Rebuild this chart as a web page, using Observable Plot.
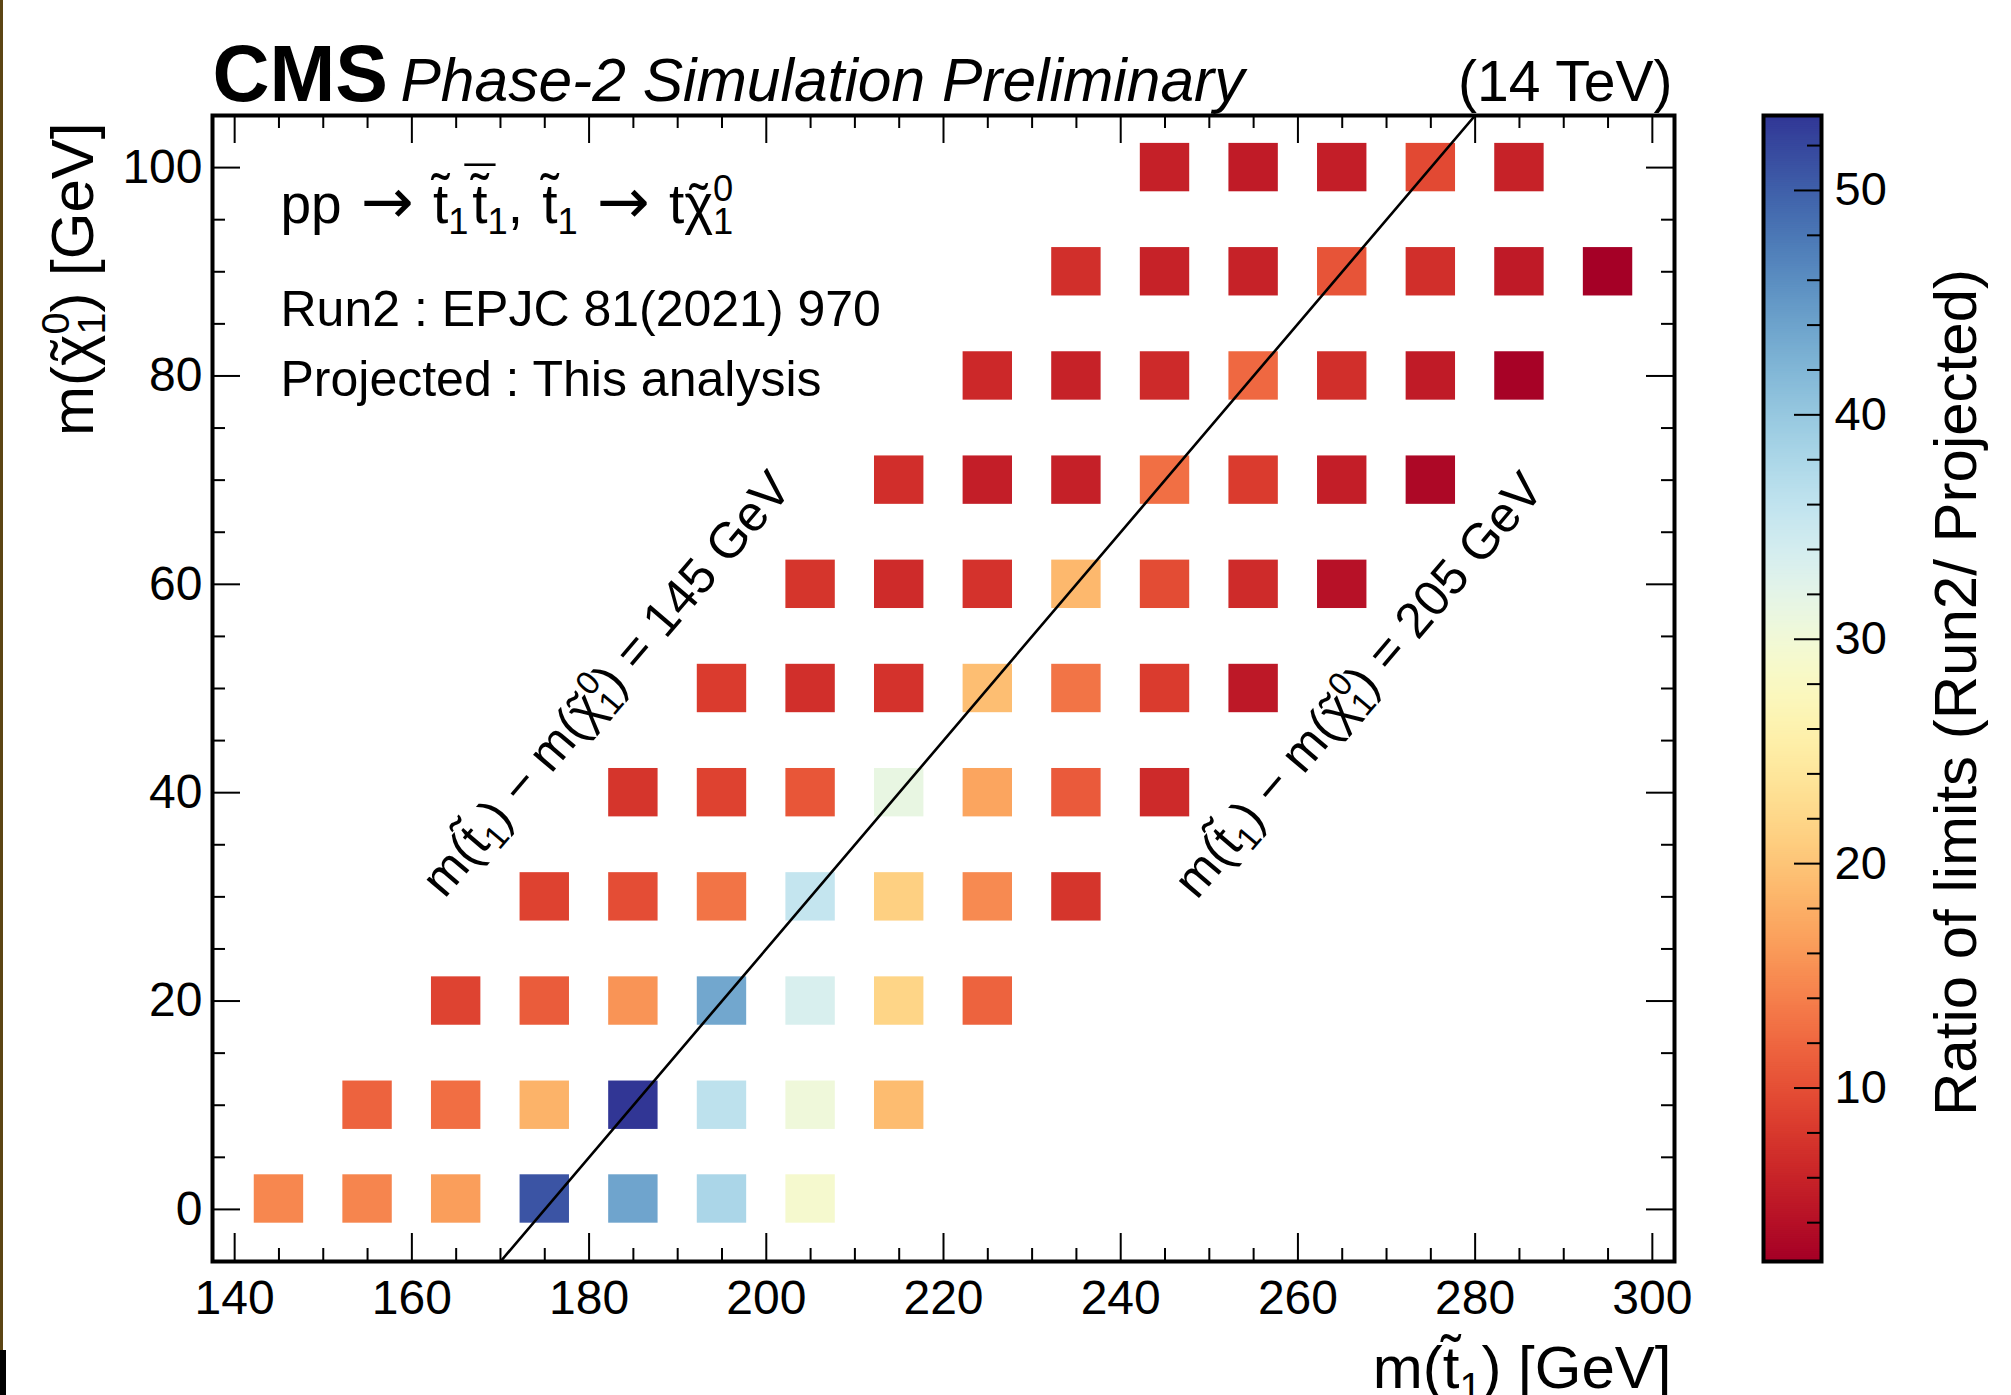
<!DOCTYPE html>
<html>
<head>
<meta charset="utf-8">
<script src="https://cdn.jsdelivr.net/npm/d3@7"></script>
<script src="https://cdn.jsdelivr.net/npm/@observablehq/plot@0.6"></script>
<style>
  html, body { margin: 0; padding: 0; background: #fff; }
  #page { position: relative; width: 2011px; height: 1395px; overflow: hidden; background: #fff;
          font-family: "Liberation Sans", Arial, Helvetica, sans-serif; }
  #main { position: absolute; left: 0; top: 0; }
  #cbar { position: absolute; left: 1720px; top: 0; }
  #edge { position: absolute; left: 0; top: 0; width: 3px; height: 1350px; background: #5c4514; }
  #edge2 { position: absolute; left: 0; top: 1350px; width: 6px; height: 45px; background: #000; }
</style>
</head>
<body>
<div id="page"><div id="main"></div><div id="cbar"></div><div id="edge"></div><div id="edge2"></div></div>
<script>
// ---------------- DATA ----------------
const _ = null;
// stop mass grid [GeV]
const mStop = [145, 155, 165, 175, 185, 195, 205, 215, 225, 235, 245, 255, 265, 275, 285, 295];
// neutralino mass of each row [GeV]
const mLSP = [1, 10, 20, 30, 40, 50, 60, 70, 80, 90, 100];
// ratio of limits (Run2 / Projected), one array per neutralino mass row, aligned to mStop
const ratio_m1   = [14.5, 14.4, 16.4, 50.9, 43.8, 38.0, 29.1, _, _, _, _, _, _, _, _, _];
const ratio_m10  = [_, 11.6, 12.5, 18.3, 53.3, 36.3, 30.3, 19.1, _, _, _, _, _, _, _, _];
const ratio_m20  = [_, _, 8.9, 11.0, 15.6, 43.5, 33.4, 21.7, 11.6, _, _, _, _, _, _, _];
const ratio_m30  = [_, _, _, 8.8, 9.8, 13.0, 35.6, 21.2, 14.8, 7.6, _, _, _, _, _, _];
const ratio_m40  = [_, _, _, _, 7.6, 8.8, 10.5, 31.3, 17.0, 10.9, 6.6, _, _, _, _, _];
const ratio_m50  = [_, _, _, _, _, 8.2, 7.1, 7.4, 19.3, 13.0, 8.2, 4.8, _, _, _, _];
const ratio_m60  = [_, _, _, _, _, _, 7.6, 6.7, 7.4, 18.7, 9.7, 6.7, 4.1, _, _, _];
const ratio_m70  = [_, _, _, _, _, _, _, 7.0, 5.4, 5.6, 12.6, 8.2, 5.4, 3.1, _, _];
const ratio_m80  = [_, _, _, _, _, _, _, _, 6.4, 5.8, 6.6, 12.0, 7.1, 5.1, 2.5, _];
const ratio_m90  = [_, _, _, _, _, _, _, _, _, 7.1, 5.8, 5.8, 10.4, 7.1, 5.0, 2.3];
const ratio_m100 = [_, _, _, _, _, _, _, _, _, _, 5.6, 5.1, 5.4, 9.4, 5.8, _];
const ratioRows = [ratio_m1, ratio_m10, ratio_m20, ratio_m30, ratio_m40, ratio_m50,
                   ratio_m60, ratio_m70, ratio_m80, ratio_m90, ratio_m100];

// axis ticks
const xMajor = [140, 160, 180, 200, 220, 240, 260, 280, 300];
const xMinor = [145, 150, 155, 165, 170, 175, 185, 190, 195, 205, 210, 215, 225, 230, 235,
                245, 250, 255, 265, 270, 275, 285, 290, 295];
const yMajor = [0, 20, 40, 60, 80, 100];
const yMinor = [5, 10, 15, 25, 30, 35, 45, 50, 55, 65, 70, 75, 85, 90, 95];
const cbMajor = [10, 20, 30, 40, 50];
const cbMinor = [4, 6, 8, 12, 14, 16, 18, 22, 24, 26, 28, 32, 34, 36, 38, 42, 44, 46, 48, 52];

// scale ranges
const xDom = [137.5, 302.5];
const yDom = [-5, 105];
const cDom = [2.27, 53.34];

// m(stop) - m(LSP) = m(top) diagonal
const deltaTop = 175;
const diagY = [-5, 105];

// texts
const xTitle = "m(t\u0303\u2081) [GeV]";
const yTitle = "m(\u03C7\u0303\u2070\u2081) [GeV]";
const cbTitle = "Ratio of limits (Run2/ Projected)";
const ppLabel = "pp \u2192 t\u0303\u2081t\u0303\u0304\u2081, t\u0303\u2081 \u2192 t\u03C7\u0303\u2070\u2081";
const diagLabels = [
  {x: 182.0, y: 50.4, label: "m(t\u0303\u2081) \u2212 m(\u03C7\u0303\u2070\u2081) = 145 GeV"},
  {x: 266.9, y: 50.3, label: "m(t\u0303\u2081) \u2212 m(\u03C7\u0303\u2070\u2081) = 205 GeV"}
];

// rich-text markup for the labels with accents and sub/superscripts
const ARROW = {t: "\u2192", font: '"DejaVu Sans", sans-serif', scale: 1.15};
const GAP = {gap: 0.07};
const tTilde = {acc: "t", tilde: 0.17};
const tTildeBar = {acc: "t", tilde: 0.17, bar: 0.13};
const chiTilde = {acc: "\u03C7", tilde: 0.0};
const rich = new Map([
  [xTitle, ["m(", tTilde, {sub: "1"}, ") [GeV]"]],
  [yTitle, ["m(", chiTilde, {sup: "0", sub: "1"}, ") [GeV]"]],
  [ppLabel, ["pp ", GAP, ARROW, " ", GAP, tTilde, {sub: "1"}, GAP, tTildeBar, {sub: "1"}, ", ", GAP, tTilde, {sub: "1"},
             " ", GAP, ARROW, " ", GAP, "t", chiTilde, {sup: "0", sub: "1"}]],
  [diagLabels[0].label, ["m(", tTilde, {sub: "1"}, ") \u2212 m(", chiTilde, {sup: "0", sub: "1"}, ") = 145 GeV"]],
  [diagLabels[1].label, ["m(", tTilde, {sub: "1"}, ") \u2212 m(", chiTilde, {sup: "0", sub: "1"}, ") = 205 GeV"]]
]);

// ---------------- TABLE ----------------
const cells = [];
mLSP.forEach((y, i) => ratioRows[i].forEach((v, j) => {
  if (v != null) cells.push({mStop: mStop[j], mLSP: y, ratio: v});
}));

// ---------------- LAYOUT ----------------
const FONT = '"Liberation Sans", Arial, Helvetica, sans-serif';
const W = 1720, H = 1395;
const mL = 212, mR = W - 1674, mT = 115, mB = H - 1261;
const pxX = (W - mL - mR) / (xDom[1] - xDom[0]);
const pxY = (H - mT - mB) / (yDom[1] - yDom[0]);
const cellHW = 24.7 / pxX, cellHH = 24.2 / pxY;
const tMaj = 28, tMin = 13;
const colorScale = {type: "linear", scheme: "RdYlBu", domain: cDom, clamp: true};

const tickStyle = {stroke: "black", strokeWidth: 2};

const main = Plot.plot({
  width: W, height: H,
  marginLeft: mL, marginRight: mR, marginTop: mT, marginBottom: mB,
  x: {domain: xDom},
  y: {domain: yDom},
  color: colorScale,
  style: {fontFamily: FONT, background: "transparent", overflow: "visible", color: "black"},
  marks: [
    Plot.rect(cells, {
      x1: d => d.mStop - cellHW, x2: d => d.mStop + cellHW,
      y1: d => d.mLSP - cellHH, y2: d => d.mLSP + cellHH,
      fill: "ratio"
    }),
    Plot.line(diagY.map(y => ({x: y + deltaTop, y})), {x: "x", y: "y", stroke: "black", strokeWidth: 2.6, clip: true}),
    // bottom / top ticks
    Plot.ruleX(xMajor, {x: d => d, y1: yDom[0], y2: yDom[0] + tMaj / pxY, ...tickStyle}),
    Plot.ruleX(xMinor, {x: d => d, y1: yDom[0], y2: yDom[0] + tMin / pxY, ...tickStyle}),
    Plot.ruleX(xMajor, {x: d => d, y1: yDom[1] - tMaj / pxY, y2: yDom[1], ...tickStyle}),
    Plot.ruleX(xMinor, {x: d => d, y1: yDom[1] - tMin / pxY, y2: yDom[1], ...tickStyle}),
    // left / right ticks
    Plot.ruleY(yMajor, {y: d => d, x1: xDom[0], x2: xDom[0] + tMaj / pxX, ...tickStyle}),
    Plot.ruleY(yMinor, {y: d => d, x1: xDom[0], x2: xDom[0] + tMin / pxX, ...tickStyle}),
    Plot.ruleY(yMajor, {y: d => d, x1: xDom[1] - tMaj / pxX, x2: xDom[1], ...tickStyle}),
    Plot.ruleY(yMinor, {y: d => d, x1: xDom[1] - tMin / pxX, x2: xDom[1], ...tickStyle}),
    Plot.frame({stroke: "black", strokeWidth: 4}),
    Plot.axisX(xMajor, {anchor: "bottom", tickSize: 0, tickPadding: 18, fontSize: 48, label: null}),
    Plot.axisY(yMajor, {anchor: "left", tickSize: 0, tickPadding: 10, fontSize: 48, label: null}),
    // axis titles
    Plot.text([xTitle], {text: d => d, frameAnchor: "bottom-right", textAnchor: "end", lineAnchor: "bottom", dx: -3, dy: 126, fontSize: 60}),
    Plot.text([yTitle], {text: d => d, frameAnchor: "top-left", textAnchor: "end", lineAnchor: "bottom", rotate: -90, dx: -120, dy: 7, fontSize: 60}),
    // header
    Plot.text(["CMS"], {text: d => d, frameAnchor: "top-left", textAnchor: "start", lineAnchor: "bottom", dx: 0, dy: -15, fontSize: 79, fontWeight: "bold"}),
    Plot.text(["Phase-2 Simulation Preliminary"], {text: d => d, frameAnchor: "top-left", textAnchor: "start", lineAnchor: "bottom", dx: 188, dy: -15, fontSize: 60.5, fontStyle: "italic"}),
    Plot.text(["(14 TeV)"], {text: d => d, frameAnchor: "top-right", textAnchor: "end", lineAnchor: "bottom", dx: -2, dy: -15, fontSize: 57}),
    // legend text
    Plot.text([ppLabel], {text: d => d, frameAnchor: "top-left", textAnchor: "start", lineAnchor: "bottom", dx: 68, dy: 107, fontSize: 55}),
    Plot.text(["Run2 : EPJC 81(2021) 970"], {text: d => d, frameAnchor: "top-left", textAnchor: "start", lineAnchor: "bottom", dx: 68, dy: 210, fontSize: 50}),
    Plot.text(["Projected : This analysis"], {text: d => d, frameAnchor: "top-left", textAnchor: "start", lineAnchor: "bottom", dx: 68, dy: 280, fontSize: 50}),
    // diagonal annotations
    Plot.text(diagLabels, {x: "x", y: "y", text: "label", rotate: -49.6, fontSize: 50})
  ]
});
document.getElementById("main").appendChild(main);

// ---------------- COLOR BAR ----------------
const CW = 291;
const cbBarW = 58;
const nStops = 600;
const cbStep = (cDom[1] - cDom[0]) / nStops;
const cbStops = d3.range(nStops).map(i => cDom[0] + i * cbStep);

const cbar = Plot.plot({
  width: CW, height: H,
  marginLeft: 43, marginRight: CW - 43 - cbBarW, marginTop: mT, marginBottom: mB,
  x: {domain: [0, 1], axis: null},
  y: {domain: cDom, axis: null},
  color: colorScale,
  style: {fontFamily: FONT, background: "transparent", overflow: "visible", color: "black"},
  marks: [
    Plot.rect(cbStops, {x1: 0, x2: 1, y1: d => d, y2: d => d + cbStep * 1.6, fill: d => d, clip: true}),
    Plot.ruleY(cbMinor, {y: d => d, x1: 1 - 14 / cbBarW, x2: 1, ...tickStyle}),
    Plot.ruleY(cbMajor, {y: d => d, x1: 1 - 27 / cbBarW, x2: 1, ...tickStyle}),
    Plot.frame({stroke: "black", strokeWidth: 4}),
    Plot.axisY(cbMajor, {anchor: "right", tickSize: 0, tickPadding: 13, fontSize: 47, label: null}),
    Plot.text([cbTitle], {text: d => d, frameAnchor: "right", textAnchor: "middle", lineAnchor: "middle", rotate: -90, dx: 135, dy: 4, fontSize: 60})
  ]
});
document.getElementById("cbar").appendChild(cbar);

// ---------------- RICH TEXT (accents, sub/superscripts) ----------------
function applyRich(root) {
  const ns = "http://www.w3.org/2000/svg";
  root.querySelectorAll("text").forEach(el => {
    const segs = rich.get(el.textContent);
    if (!segs) return;
    const fs = parseFloat(getComputedStyle(el).fontSize);
    while (el.firstChild) el.removeChild(el.firstChild);
    let shift = 0, pdx = 0;
    const add = (txt, target, size, font) => {
      const t = document.createElementNS(ns, "tspan");
      const dy = target - shift;
      if (dy) t.setAttribute("dy", dy);
      if (pdx) t.setAttribute("dx", pdx);
      if (size) t.setAttribute("font-size", size);
      if (font) t.setAttribute("font-family", font);
      t.textContent = txt;
      el.appendChild(t);
      shift = target; pdx = 0;
      return t;
    };
    const SUP = -0.40 * fs, SUB = 0.20 * fs, SS = 0.66 * fs;
    for (const s of segs) {
      if (typeof s === "string") add(s, 0);
      else if (s.gap != null) pdx += s.gap * fs;
      else if (s.t) add(s.t, 0, s.scale ? s.scale * fs : null, s.font);
      else if (s.acc) {
        const b = add(s.acc, 0);
        const w = b.getComputedTextLength();
        let pos = w;
        const marks = [];
        if (s.tilde != null) marks.push(["\u02DC", s.tilde]);
        if (s.bar != null) marks.push(["\u00AF", s.tilde + s.bar]);
        for (const [m, raise] of marks) {
          const tm = add(m, -raise * fs);
          const wm = tm.getComputedTextLength();
          const start = (w - wm) / 2;
          tm.setAttribute("dx", start - pos);
          pos = start + wm;
        }
        pdx = w - pos;
      } else if (s.sup != null && s.sub != null) {
        const a = add(s.sup, SUP, SS);
        const wa = a.getComputedTextLength();
        pdx = -wa;
        add(s.sub, SUB, SS);
      } else if (s.sub != null) {
        add(s.sub, SUB, SS);
      } else if (s.sup != null) {
        add(s.sup, SUP, SS);
      }
    }
  });
}
applyRich(main);
applyRich(cbar);
</script>
</body>
</html>
